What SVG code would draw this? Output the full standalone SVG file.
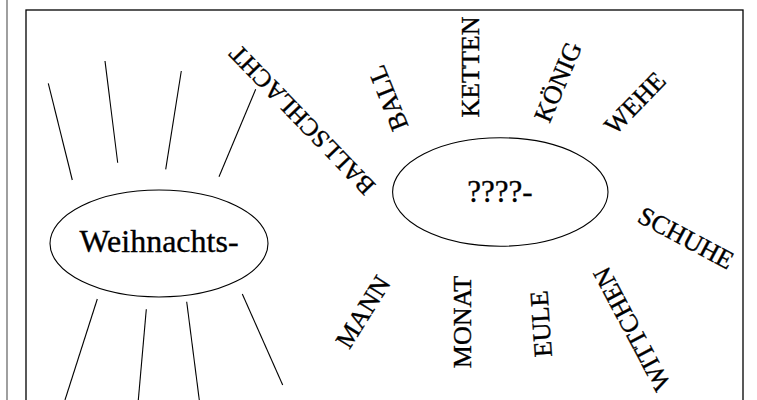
<svg xmlns="http://www.w3.org/2000/svg" width="757" height="400" viewBox="0 0 757 400">
<style>
.t{font-family:"Liberation Serif","Times New Roman",serif;fill:#000;stroke:#000;stroke-width:0.35}
.lbl{font-size:26px;text-anchor:middle}
.ctr{font-size:31px;text-anchor:middle}
.e{fill:#fff;stroke:#000;stroke-width:1.1}
.c line{stroke:#000;stroke-width:1.1}
</style>
<rect width="757" height="400" fill="#fff"/>
<line x1="7" y1="0" x2="7" y2="400" stroke="#888" stroke-width="1.6"/>
<rect x="26" y="10" width="717" height="400" fill="none" stroke="#000" stroke-width="1.3"/>
<g id="connectors" class="c">
<line x1="48.3" y1="83.3" x2="72.3" y2="180"/>
<line x1="105" y1="61" x2="117.7" y2="162.7"/>
<line x1="181.3" y1="71" x2="165.7" y2="169.3"/>
<line x1="255.7" y1="89.3" x2="219" y2="176.7"/>
<line x1="97.3" y1="299" x2="65" y2="400"/>
<line x1="146.3" y1="309.3" x2="138.3" y2="400"/>
<line x1="186.7" y1="301.7" x2="199.3" y2="400"/>
<line x1="242.3" y1="294" x2="282.7" y2="385"/>
</g>
<g id="weihnachts">
<ellipse class="e" cx="159" cy="243.5" rx="109" ry="53.5"/>
<text class="t ctr" x="159" y="252" style="font-size:32px">Weihnachts-</text>
</g>
<g id="fragezeichen">
<ellipse class="e" cx="500.3" cy="192" rx="107.7" ry="54.2"/>
<text class="t ctr" x="500" y="202">????-</text>
</g>
<g id="ballschlacht" transform="translate(302,120) rotate(-134)"><text class="t lbl" x="0" y="8.5" style="font-size:25px">BALLSCHLACHT</text></g>
<g id="ball" transform="translate(388,98) rotate(-112)"><text class="t lbl" x="0" y="8.6">BALL</text></g>
<g id="ketten" transform="translate(470,67) rotate(-90)"><text class="t lbl" x="0" y="8.6">KETTEN</text></g>
<g id="koenig" transform="translate(558,82) rotate(-67)"><text class="t lbl" x="0" y="8.6">KÖNIG</text></g>
<g id="wehe" transform="translate(635,103) rotate(-46)"><text class="t lbl" x="0" y="8.6">WEHE</text></g>
<g id="schuhe" transform="translate(686,238) rotate(28)"><text class="t lbl" x="0" y="8.6">SCHUHE</text></g>
<g id="mann" transform="translate(363,312) rotate(-58)"><text class="t lbl" x="0" y="8.6">MANN</text></g>
<g id="monat" transform="translate(462,322) rotate(-90)"><text class="t lbl" x="0" y="8.6">MONAT</text></g>
<g id="eule" transform="translate(541,324) rotate(-94)"><text class="t lbl" x="0" y="8.6">EULE</text></g>
<g id="wittchen" transform="translate(632,329) rotate(-118)"><text class="t lbl" x="0" y="8.6">WITTCHEN</text></g>
</svg>
